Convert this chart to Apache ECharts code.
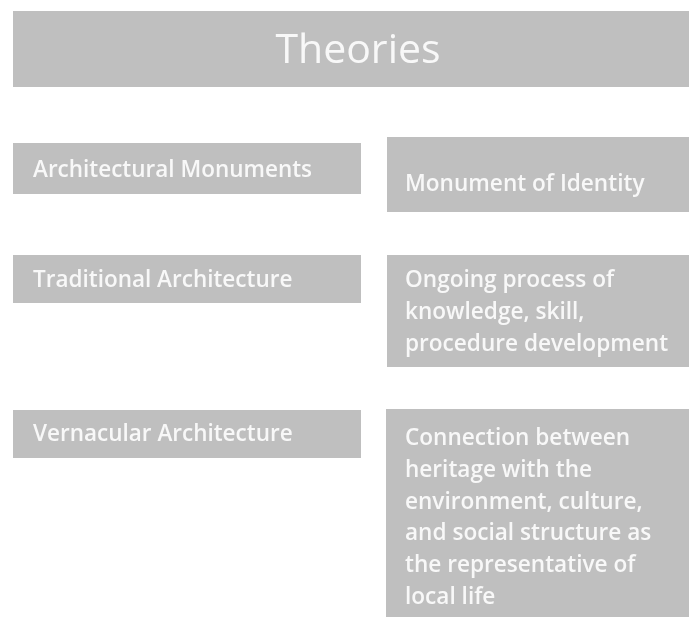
<!DOCTYPE html>
<html><head><meta charset="utf-8">
<script src="https://cdn.jsdelivr.net/npm/echarts@6/dist/echarts.min.js"></script>
<style>html,body{margin:0;padding:0;background:#fff}#c{width:689px;height:617px}</style>
</head><body><div id="c"></div>
<script>
const title = 'Theories';
const concepts = ['Architectural Monuments', 'Traditional Architecture', 'Vernacular Architecture'];
const meanings = [
  ['Monument of Identity'],
  ['Ongoing process of', 'knowledge, skill,', 'procedure development'],
  ['Connection between', 'heritage with the', 'environment, culture,', 'and social structure as', 'the representative of', 'local life']
];

const FILL = '#bfbfbf', TXT = '#f8f8f8', FONT = '"Open Sans"';
// layout
const leftBoxes = [[13,143,348,51],[13,255,348,48],[13,410,348,48]];
const rightBoxes = [[387,137,302,75],[387,255,302,112],[386,409,303,208]];
const leftTextY = [171, 281, 435];
const rightTextTop = [169, 265, 423];

const els = [];
els.push({type:'rect', shape:{x:13,y:11,width:676,height:76}, style:{fill:FILL}});
els.push({type:'text', x:358, y:51, style:{text:title, fill:TXT, font:'41px '+FONT, align:'center', verticalAlign:'middle'}});
concepts.forEach((c,i)=>{
  const b = leftBoxes[i];
  els.push({type:'rect', shape:{x:b[0],y:b[1],width:b[2],height:b[3]}, style:{fill:FILL}});
  els.push({type:'text', x:33, y:leftTextY[i], style:{text:c, fill:TXT, font:'600 22.5px '+FONT, verticalAlign:'middle'}});
});
meanings.forEach((m,i)=>{
  const b = rightBoxes[i];
  els.push({type:'rect', shape:{x:b[0],y:b[1],width:b[2],height:b[3]}, style:{fill:FILL}});
  els.push({type:'text', x:405, y:rightTextTop[i], style:{text:m.join('\n'), fill:TXT, font:'600 22.6px '+FONT, lineHeight:31.7, verticalAlign:'top'}});
});

const chart = echarts.init(document.getElementById('c'), null, {renderer:'canvas'});
chart.setOption({animation:false, graphic:{elements:els}});
</script></body></html>
